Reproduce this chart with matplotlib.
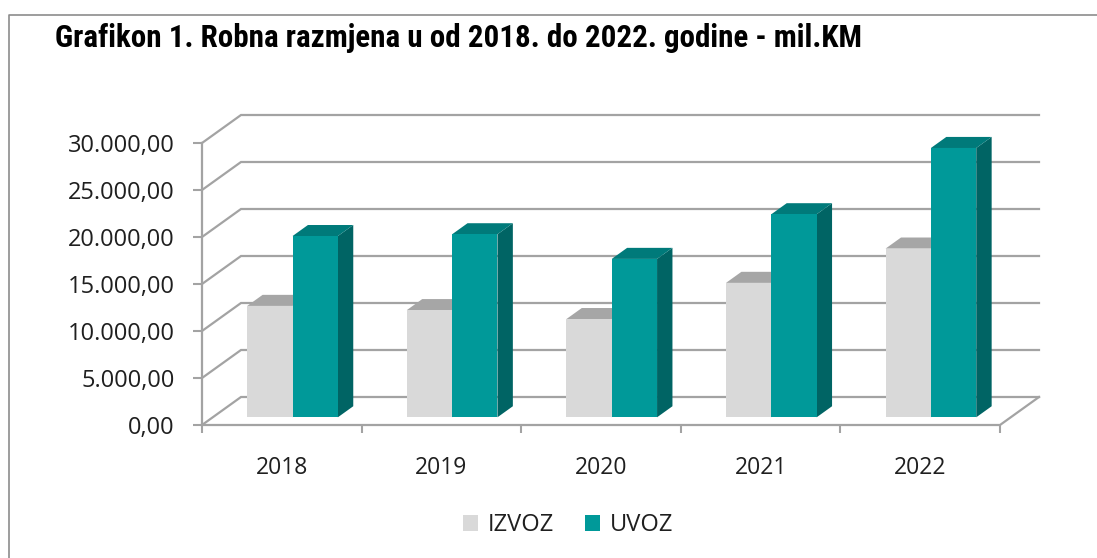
import matplotlib
matplotlib.use("Agg")
import matplotlib.pyplot as plt
from matplotlib.patches import Polygon, Patch
from matplotlib.lines import Line2D

# ---- data ----
years = ["2018", "2019", "2020", "2021", "2022"]
izvoz = [11850, 11400, 10450, 14300, 17950]
uvoz = [19280, 19470, 16850, 21600, 28650]
series_names = ["IZVOZ", "UVOZ"]
y_ticks = [0, 5000, 10000, 15000, 20000, 25000, 30000]
title = "Grafikon 1. Robna razmjena u od 2018. do 2022. godine - mil.KM"

# ---- style ----
plt.rcParams['font.family'] = ['Open Sans', 'DejaVu Sans']
W, H = 1097, 558
GRID = '#A3A3A3'
TXT = '#1F1F1F'
front_cols = ['#D9D9D9', '#009999']
top_cols = ['#A6A6A6', '#007A7A']
side_cols = ['#A6A6A6', '#006464']

fig = plt.figure(figsize=(W / 100, H / 100), dpi=100)
ax = fig.add_axes([202 / W, 1 - 425 / H, (1000 - 202) / W, (425 - 143) / H])
ncat = len(years)
ymax = 30000
ax.set_xlim(0, ncat)
ax.set_ylim(0, ymax)
for s in ax.spines.values():
    s.set_visible(False)

# oblique depth offset (in data units), derived from axes scale
px_per_x = (1000 - 202) / ncat
px_per_y = (425 - 143) / ymax
DX = 39 / px_per_x
DY = 28 / px_per_y

# walls / gridlines
for v in y_ticks:
    ax.add_line(Line2D([0, DX, ncat + DX], [v, v + DY, v + DY], color=GRID, lw=1.6,
                       zorder=1, clip_on=False, solid_joinstyle='miter'))
ax.add_line(Line2D([0, 0], [0, ymax], color=GRID, lw=1.6, zorder=1, clip_on=False))
ax.add_line(Line2D([0, ncat, ncat + DX], [0, 0, DY], color=GRID, lw=1.6, zorder=1,
                   clip_on=False, solid_joinstyle='miter'))

# bars
d0, d1 = 0.275, 0.67
bw = 0.284
off = 0.216
for i in range(ncat):
    for j, vals in enumerate([izvoz, uvoz]):
        v = vals[i]
        x0 = i + off + j * bw
        x1 = x0 + bw
        fx0, fx1 = x0 + d0 * DX, x1 + d0 * DX
        bx0, bx1 = x0 + d1 * DX, x1 + d1 * DX
        fy0, by0 = d0 * DY, d1 * DY
        z = 3 + i * 3 + j * 1.5
        front = Polygon([(fx0, fy0), (fx1, fy0), (fx1, fy0 + v), (fx0, fy0 + v)],
                        closed=True, facecolor=front_cols[j], edgecolor='none', zorder=z + 0.2, clip_on=False)
        top = Polygon([(fx0, fy0 + v), (fx1, fy0 + v), (bx1, by0 + v), (bx0, by0 + v)],
                      closed=True, facecolor=top_cols[j], edgecolor='none', zorder=z + 0.1, clip_on=False)
        side = Polygon([(fx1, fy0), (bx1, by0), (bx1, by0 + v), (fx1, fy0 + v)],
                       closed=True, facecolor=side_cols[j], edgecolor='none', zorder=z + 0.1, clip_on=False)
        for p in (side, top, front):
            ax.add_patch(p)

# ticks
ax.set_yticks(y_ticks)
ax.set_yticklabels([f"{v:,.2f}".replace(",", "X").replace(".", ",").replace("X", ".") for v in y_ticks])
ax.tick_params(axis='y', direction='out', length=6.5, width=1.5, color=GRID, pad=13,
               labelsize=17, labelcolor=TXT)
ax.set_xticks(range(ncat + 1))
ax.set_xticklabels([])
ax.set_xticks([i + 0.5 for i in range(ncat)], minor=True)
ax.set_xticklabels(years, minor=True)
ax.tick_params(axis='x', which='major', direction='out', length=5.5, width=1.5, color=GRID)
ax.tick_params(axis='x', which='minor', length=0, pad=22, labelsize=16.5, labelcolor=TXT)

# border
fig.add_artist(Line2D([8.5 / W, 8.5 / W, 1], [0, 1 - 14.5 / H, 1 - 14.5 / H], color='#8C8C8C',
                      lw=1.2, transform=fig.transFigure))

# title (fit to reference width)
t = fig.text(55 / W, 1 - 38 / H, title, fontsize=18, fontweight='bold', va='center', ha='left',
             fontstretch='condensed',
             family=['Roboto Condensed', 'Open Sans Condensed', 'DejaVu Sans Condensed',
                     'Liberation Sans Narrow', 'Open Sans', 'DejaVu Sans'], color='black')
fig.canvas.draw()
wpx = t.get_window_extent().width
t.set_fontsize(18 * 807 / wpx)

# legend
handles = [Patch(facecolor=front_cols[k], edgecolor='none') for k in range(2)]
fig.legend(handles, series_names, loc='center', bbox_to_anchor=(568 / W, 1 - 525 / H), ncol=2,
           frameon=False, fontsize=17, handlelength=0.65, handleheight=0.65, handletextpad=0.4,
           columnspacing=1.3, labelcolor=TXT)

fig.savefig("out.png", dpi=100, facecolor='white')
